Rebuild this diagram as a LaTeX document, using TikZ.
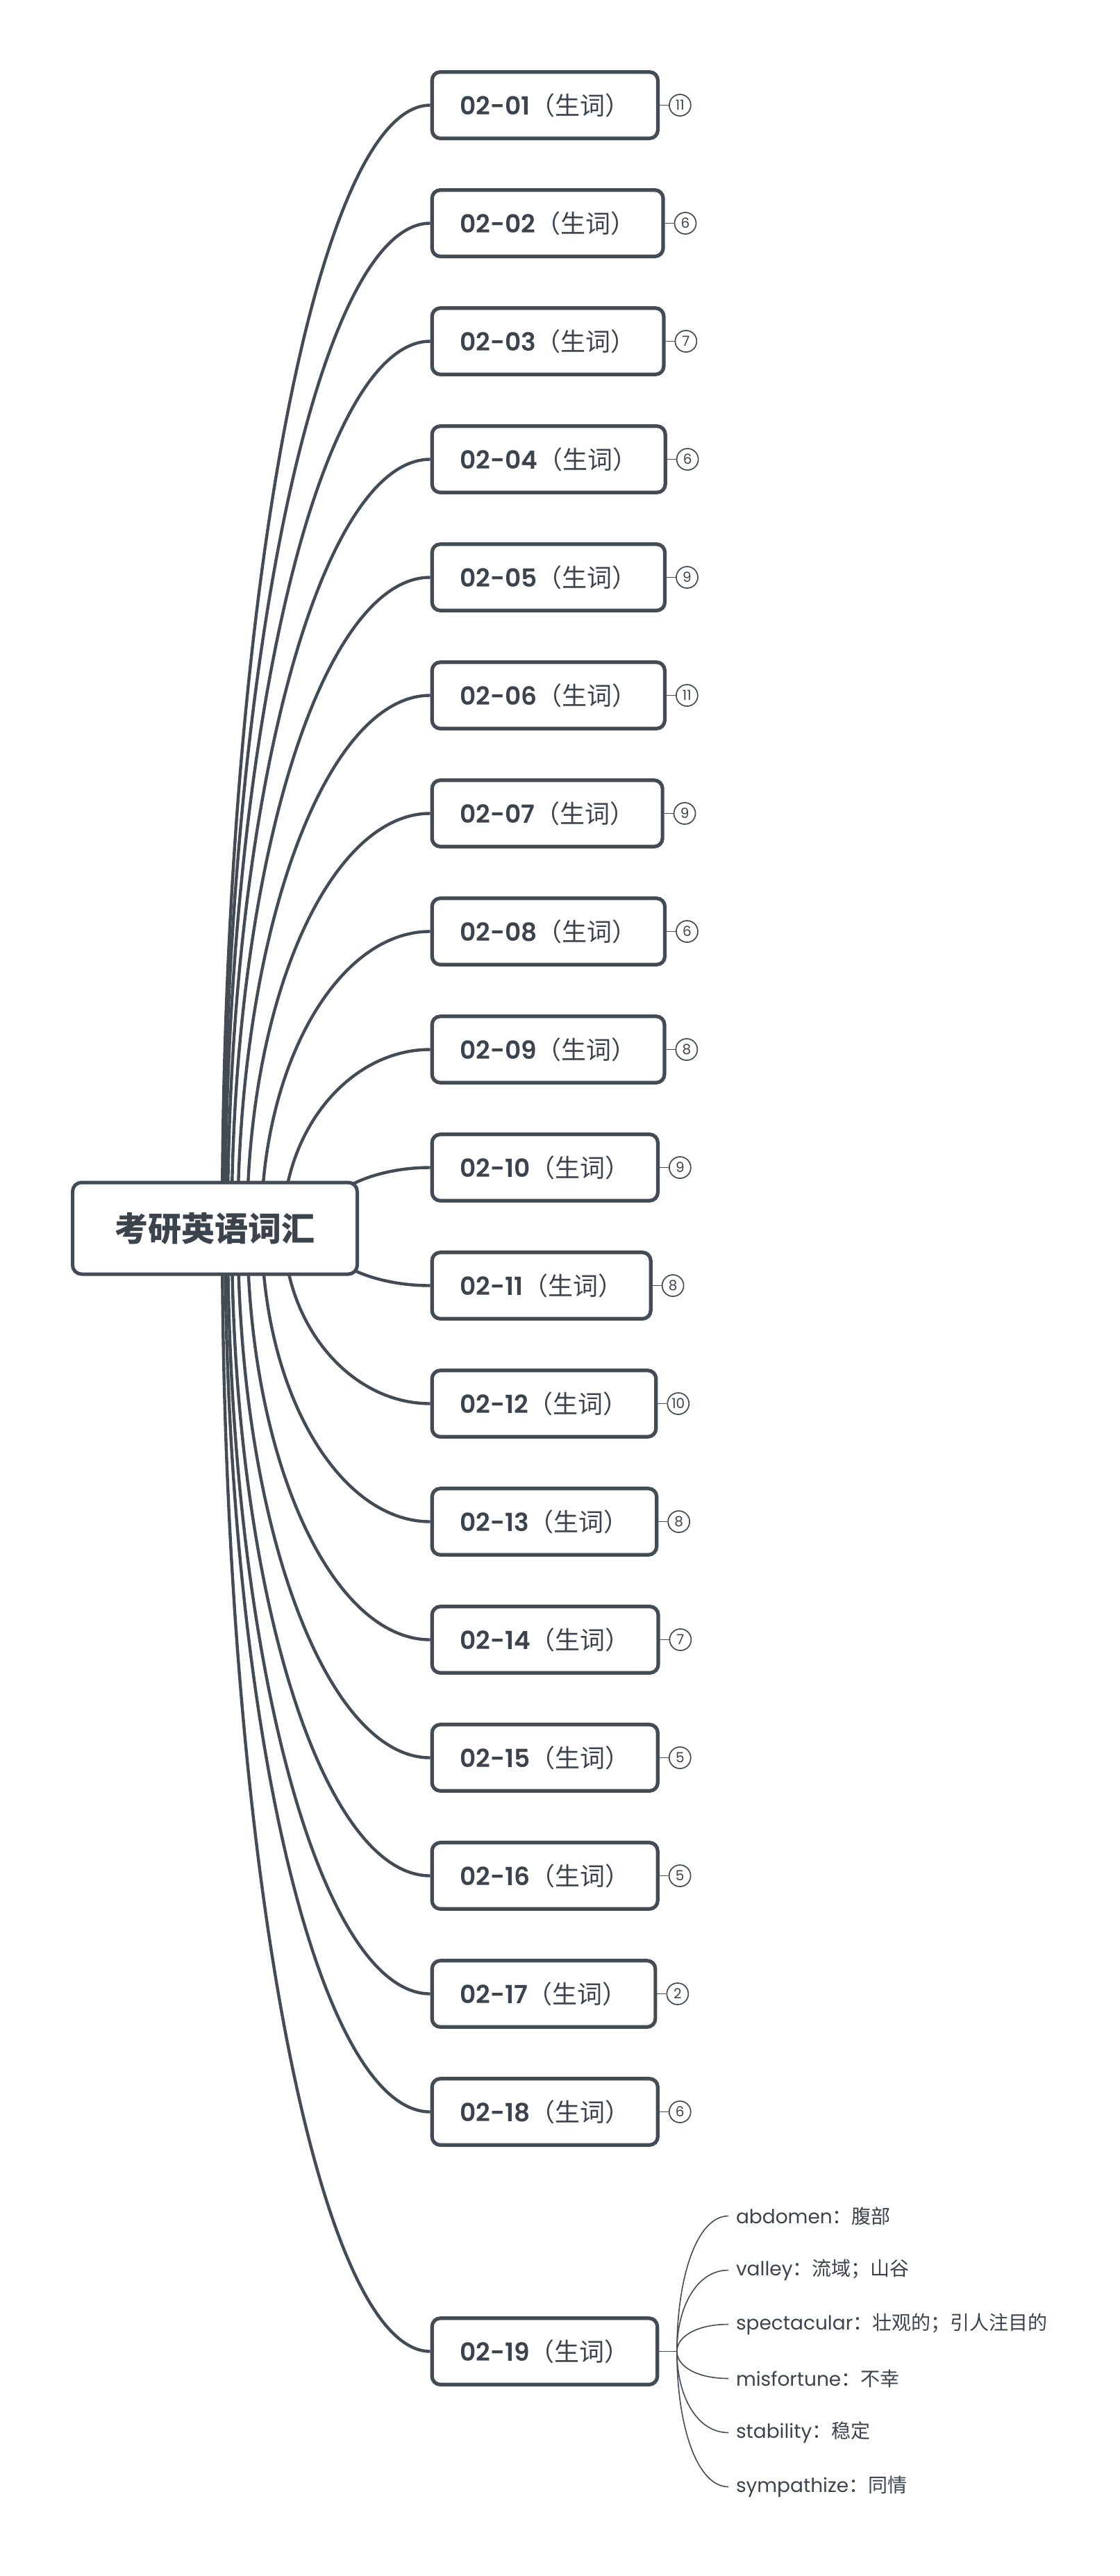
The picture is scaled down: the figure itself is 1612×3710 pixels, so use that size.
\documentclass[tikz,border=0pt]{standalone}
\usepackage{fontspec}
\setmainfont{Poppins}
\newfontfamily\zh{Noto Sans CJK SC}
\newfontfamily\ltm{Poppins}[UprightFont=* SemiBold]
\usetikzlibrary{%
  positioning,%
  calc,%
  backgrounds,%
}
\definecolor{xdark}{HTML}{434B54}
\definecolor{xtext}{HTML}{3B434C}
\tikzset{
  roottopic/.style={draw=xdark, line width=2.5pt, rounded corners=6.5pt, fill=white, minimum width=205pt, minimum height=66pt, text=xtext, font=\zh\bfseries\fontsize{24}{28}\selectfont},
  subtopic/.style={draw=xdark, line width=2.6pt, rounded corners=6pt, fill=white, minimum height=47.8pt, inner xsep=20pt, anchor=west, text=xtext, font=\fontsize{18}{22}\selectfont},
  counter/.style={circle, draw=xdark, line width=0.85pt, minimum size=15.5pt, inner sep=0pt, text=xtext, font=\fontsize{10}{10}\selectfont},
  leaf/.style={anchor=west, inner xsep=5.3pt, text=xtext, font=\fontsize{14}{16}\selectfont},
  branch/.style={draw=xdark, line width=2.2pt},
  twig/.style={draw=xdark, line width=0.8pt},
}

\begin{document}
\begin{tikzpicture}[x=0.5pt, y=-0.5pt]
  \begin{pgfonlayer}{background}
    \fill [white] (0, 0) rectangle (1612, 3710);
  \end{pgfonlayer}
  \useasboundingbox (0, 0) rectangle (1612, 3710);
  \node [roottopic] (root) at (309.5, 1769) {考研英语词汇};
  \foreach \n/\k [count=\i] in {01/11, 02/6, 03/7, 04/6, 05/9, 06/11, 07/9, 08/6, 09/8, 10/9, 11/8, 12/10, 13/8, 14/7, 15/5, 16/5, 17/2, 18/6} {
    \node [subtopic] (t\n) at (619.6, {151.5+170*(\i-1)}) {{\ltm 02-\n}{\zh （生词）}};
    \node [counter, right=6.5pt of t\n] (k\n) {\k};
    \draw [twig] (t\n.east) -- (k\n.west);
  }
  \node [subtopic] (t19) at (619.6, 3386.5) {{\ltm 02-19}{\zh （生词）}};
  \foreach \n [count=\i] in {01, 02, 03, 04, 05, 06, 07, 08, 09, 10, 11, 12, 13, 14, 15, 16, 17, 18, 19} {
    \pgfmathsetmacro\dy{151.5+170*(\i-1)+(\i>18)*175-1769}
    \pgfmathsetmacro\b{abs(\dy)}
    \pgfmathsetmacro\a{300-90*exp(-(\b-260)/400)}
    \pgfmathsetmacro\ang{\dy<0 ? 90 : -90}
    \begin{pgfonlayer}{background}
      \draw [branch] ($(root.center)+({307.5-\a}, 0)$) to [out=\ang, in=180, out distance=0.276*\b pt, in distance=0.276*\a pt] (t\n.west);
    \end{pgfonlayer}
  }
  \coordinate (j19) at ($(t19.east)+(12.8pt, 0)$);
  \draw [twig] (t19.east) -- (j19);
  \node [leaf] (w1) at (1049, 3191.5) {abdomen{\zh ：腹部}};
  \node [leaf] (w2) at (1049, 3269.5) {valley{\zh ：流域；山谷}};
  \node [leaf] (w3) at (1049, 3347.5) {spectacular{\zh ：壮观的；引人注目的}};
  \node [leaf] (w4) at (1049, 3425.5) {misfortune{\zh ：不幸}};
  \node [leaf] (w5) at (1049, 3503.5) {stability{\zh ：稳定}};
  \node [leaf] (w6) at (1049, 3581.5) {sympathize{\zh ：同情}};
  \foreach \w/\d in {1/195, 2/117, 3/39} {
    \draw [twig] (j19) to [out=90, in=180, out distance=0.276*\d pt, in distance=22.6pt] (w\w.west);
  }
  \foreach \w/\d in {4/39, 5/117, 6/195} {
    \draw [twig] (j19) to [out=-90, in=180, out distance=0.276*\d pt, in distance=22.6pt] (w\w.west);
  }
\end{tikzpicture}
\end{document}
